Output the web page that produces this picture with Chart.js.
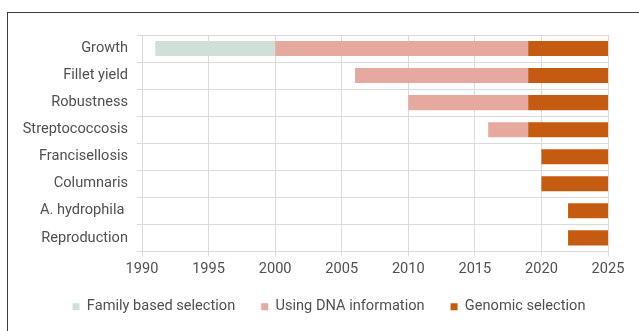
<!DOCTYPE html>
<html>
<head>
<meta charset="utf-8">
<script src="https://cdn.jsdelivr.net/npm/chart.js@4"></script>
<style>
    html, body { margin: 0; padding: 0; background: #fff; overflow: hidden; }
    .frame {
        position: absolute;
        left: 7px;
        top: 12px;
        width: 700px;
        height: 400px;
        border: 1.5px solid #3c3c3c;
    }
    #chart { position: absolute; left: 0; top: 0; }
</style>
</head>
<body>
<div class="frame"></div>
<canvas id="chart" width="639" height="331"></canvas>
<script>
// Breeding timeline per trait (floating bars: [start year, end year])
const traits = ['Growth', 'Fillet yield', 'Robustness', 'Streptococcosis',
    'Francisellosis', 'Columnaris', 'A. hydrophila ', 'Reproduction'];
const familyBased = [[1991, 2000], null, null, null, null, null, null, null];
const usingDna = [[2000, 2019], [2006, 2019], [2010, 2019], [2016, 2019], null, null, null, null];
const genomic = [[2019, 2025], [2019, 2025], [2019, 2025], [2019, 2025],
    [2020, 2025], [2020, 2025], [2022, 2025], [2022, 2025]];
const yearMin = 1990;
const yearMax = 2025;
const yearStep = 5;

const textColor = '#505050';
const gridColor = '#dadada';
const font = { family: 'Roboto', size: 14.6 };

new Chart(document.getElementById('chart'), {
    type: 'bar',
    data: {
        labels: traits,
        datasets: [
            { label: 'Family based selection', data: familyBased, backgroundColor: '#cfe0d9' },
            { label: 'Using DNA information', data: usingDna, backgroundColor: '#e5a9a0' },
            { label: 'Genomic selection', data: genomic, backgroundColor: '#c55a11' }
        ]
    },
    options: {
        indexAxis: 'y',
        responsive: false,
        animation: false,
        // right padding is negative so the legend sits a bit right of centre
        layout: { padding: { left: 12, right: -7, top: 35, bottom: 7 } },
        datasets: {
            bar: { grouped: false, barPercentage: 1, categoryPercentage: 0.556 }
        },
        scales: {
            x: {
                min: yearMin,
                max: yearMax,
                grid: { color: gridColor, tickLength: 5 },
                border: { color: gridColor },
                ticks: {
                    stepSize: yearStep,
                    padding: 4,
                    color: textColor,
                    font: font,
                    callback: value => String(value)
                },
                afterFit: scale => { scale.height = 22; }
            },
            y: {
                grid: { color: gridColor, tickLength: 5, offset: true },
                border: { color: gridColor },
                ticks: {
                    padding: 9,
                    color: textColor,
                    font: font
                },
                afterFit: scale => { scale.width = 130; }
            },
            // empty spacer on the right, keeps room for the last year label
            yRight: {
                type: 'category',
                axis: 'y',
                position: 'right',
                grid: { display: false },
                border: { display: false },
                ticks: { display: false },
                afterFit: scale => { scale.width = 38; }
            }
        },
        plugins: {
            tooltip: { enabled: false },
            legend: {
                position: 'bottom',
                labels: {
                    boxWidth: 7,
                    boxHeight: 7,
                    padding: 26,
                    color: textColor,
                    font: font
                }
            }
        }
    }
});
</script>
</body>
</html>
